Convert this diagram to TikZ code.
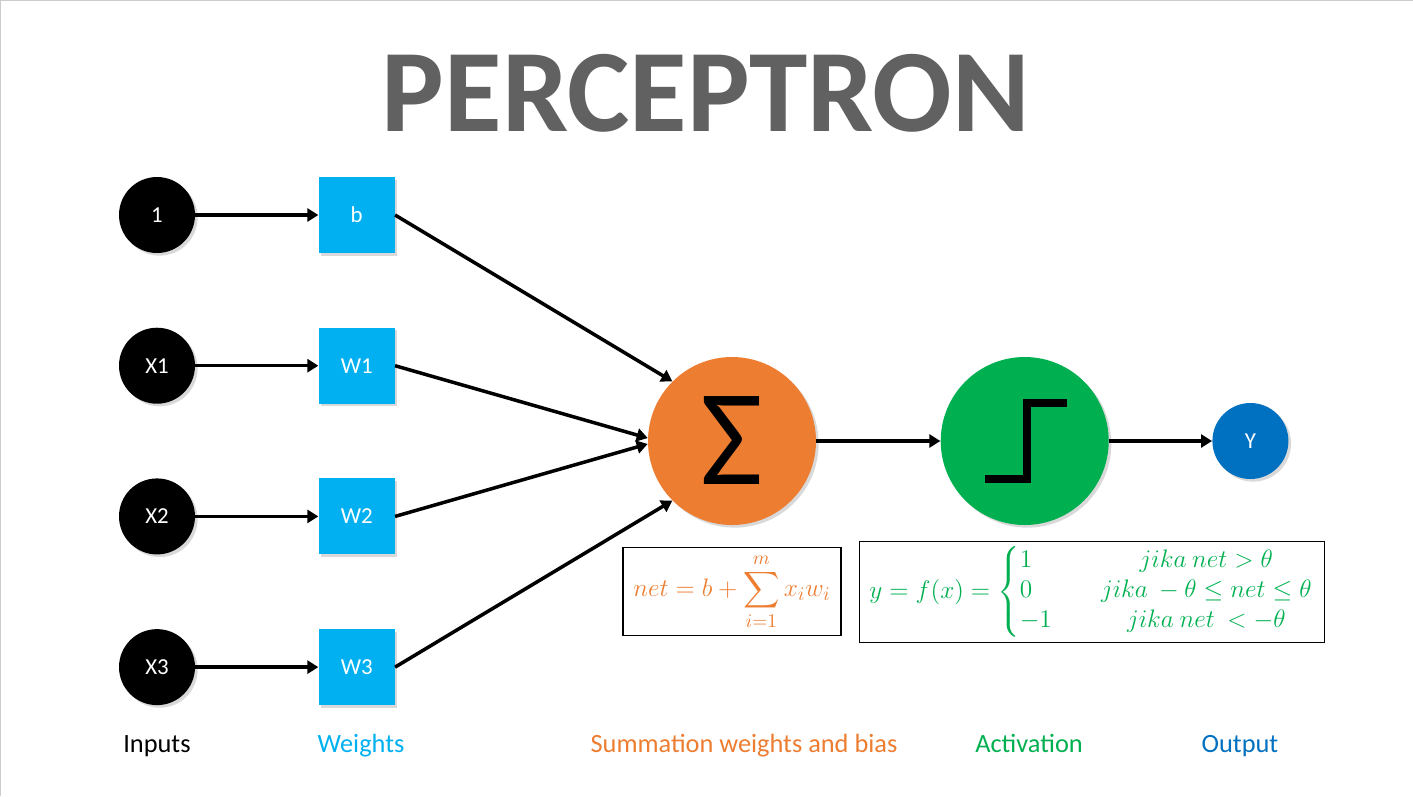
\documentclass[tikz,border=0pt]{standalone}
\usepackage{amsmath}
\usepackage{fontspec}
\setmainfont{Carlito}
\usepackage{xcolor}
\usetikzlibrary{arrows.meta, positioning, shadows}

\definecolor{sumorange}{HTML}{ED7D31}
\definecolor{actgreen}{HTML}{00B050}
\definecolor{wblue}{HTML}{00B0F0}
\definecolor{outblue}{HTML}{0070C0}

\begin{document}
\begin{tikzpicture}[
    node distance=1.48cm and 2.46cm,
    shade/.style={drop shadow={opacity=0.3, shadow xshift=1.5pt, shadow yshift=-1.5pt}},
    inp/.style={circle, fill=black, shade, minimum size=1.52cm, inner sep=0pt,
                text=white, font=\fontsize{13}{15}\selectfont},
    wgt/.style={rectangle, fill=wblue, shade, minimum size=1.52cm, inner sep=0pt,
                text=white, font=\fontsize{13}{15}\selectfont},
    big/.style={circle, shade, minimum size=3.36cm, inner sep=0pt},
    outn/.style={circle, fill=outblue, shade, minimum size=1.52cm, inner sep=0pt,
                 text=white, font=\fontsize{13}{15}\selectfont},
    frm/.style={draw, line width=0.6pt, inner sep=0pt},
    lbl/.style={anchor=base, font=\fontsize{15}{18}\selectfont},
    rel/.style={line width=2pt, -{Triangle[length=2.2mm, width=2.6mm]}}
]

\useasboundingbox (0,0) rectangle (28.26,-15.92);
\draw[gray!40, line width=1pt] (0,-15.92) -- (0,0) -- (28.26,0);

% title
\node[text=black!62, font=\fontsize{67}{75}\selectfont\bfseries]
  (title) at (14.12,-1.86) {PERCEPTRON};

% inputs and weights
\node[inp] (in0) at (3.14,-4.30) {1};
\node[inp, below=of in0] (in1) {X1};
\node[inp, below=of in1] (in2) {X2};
\node[inp, below=of in2] (in3) {X3};

\node[wgt, right=of in0] (bias) {b};
\node[wgt, right=of in1] (w1) {W1};
\node[wgt, right=of in2] (w2) {W2};
\node[wgt, right=of in3] (w3) {W3};

% summation, activation, output
\node[big, fill=sumorange] (sum) at (14.64,-8.82) {};
\node[font=\fontsize{78}{80}\selectfont] (sigma) at (sum.center) {Σ};
\node[big, fill=actgreen, right=2.48cm of sum] (act) {};
\draw[line width=4.5pt] ([xshift=-0.8cm, yshift=-0.76cm]act.center)
  -- ([xshift=0.04cm, yshift=-0.76cm]act.center)
  -- ([xshift=0.04cm, yshift=0.76cm]act.center)
  -- ([xshift=0.84cm, yshift=0.76cm]act.center);
\node[outn, right=2.06cm of act] (out) {Y};

% formulas
\node[frm, text=sumorange, minimum width=4.36cm, minimum height=1.76cm,
      below=0.44cm of sum, font=\fontsize{15}{18}\selectfont] (net)
  {$net = b + \displaystyle\sum_{i=1}^{m} x_i w_i$};
\node[frm, text=actgreen, minimum width=9.3cm, minimum height=2.02cm,
      right=0.34cm of net, font=\fontsize{14}{17}\selectfont] (fx)
  {$y = f(x) = \left\{\begin{array}{@{}l@{\qquad}c@{}}
      1 & jika\ net > \theta\\
      0 & jika\ -\theta \le net \le \theta\\
      -1 & jika\ net\ < -\theta
    \end{array}\right.$};

% connectors
\foreach \i/\w in {in0/bias, in1/w1, in2/w2, in3/w3}
  \draw[rel] (\i) -- (\w);
\draw[rel] (bias.east) -- (sum.135);
\draw[rel] (w1.east) -- (sum.178);
\draw[rel] (w2.east) -- (sum.182);
\draw[rel] (w3.east) -- (sum.225);
\draw[rel] (sum) -- (act);
\draw[rel] (act) -- (out);

% captions
\node[lbl] (cin) at (3.14,-15.04) {Inputs};
\node[lbl, text=wblue] (cw) at (7.22,-15.04) {Weights};
\node[lbl, text=sumorange] (csum) at (14.88,-15.04) {Summation weights and bias};
\node[lbl, text=actgreen] (cact) at (20.58,-15.04) {Activation};
\node[lbl, text=outblue] (cout) at (24.8,-15.04) {Output};

\end{tikzpicture}
\end{document}
